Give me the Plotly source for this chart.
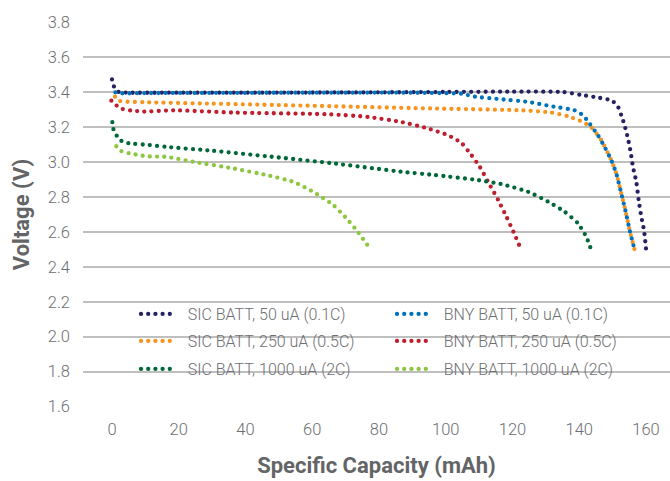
import plotly.graph_objects as go

# Discharge curves: specific capacity (mAh) vs cell voltage (V)
sic_50_x = [0, 0.6, 2, 5, 20, 40, 60, 80, 100, 120, 135, 140.6, 145.6, 149.6,
            151.4, 152.6, 153.6, 154.6, 155.4, 156.1, 157.1, 157.8, 158.6, 159.4, 160.1]
sic_50_y = [3.474, 3.433, 3.402, 3.398, 3.398, 3.398, 3.399, 3.400, 3.402, 3.404, 3.402,
            3.385, 3.370, 3.354, 3.326, 3.269, 3.211, 3.135, 3.059, 2.973, 2.887, 2.783,
            2.687, 2.611, 2.487]

bny_50_x = [1, 3, 10, 30, 60, 90, 104.7, 108.7, 116.7, 124.7, 131.7, 138.6, 141.1,
            143.1, 145.6, 147.6, 149.6, 151.1, 152.6, 153.8, 155.1, 156.6]
bny_50_y = [3.400, 3.395, 3.396, 3.397, 3.398, 3.398, 3.392, 3.375, 3.360, 3.345, 3.320,
            3.297, 3.269, 3.221, 3.154, 3.087, 3.011, 2.935, 2.821, 2.726, 2.611, 2.497]

sic_250_x = [0.9, 2.1, 3.8, 10, 30, 50, 66.8, 96.7, 122.7, 131.7, 136.6, 141.1, 143.6,
             146.6, 149.6, 151.1, 152.6, 153.8, 155.1, 156.6]
sic_250_y = [3.375, 3.352, 3.347, 3.343, 3.335, 3.327, 3.320, 3.307, 3.297, 3.284, 3.263,
             3.230, 3.200, 3.126, 3.011, 2.935, 2.821, 2.726, 2.611, 2.497]

bny_250_x = [-0.2, 1.4, 3.1, 5.6, 9.6, 18.4, 36.3, 65.3, 76.7, 86.7, 94.7, 100.7, 104.7,
             107.7, 110.2, 112.7, 115.7, 118.2, 120.7, 122.4]
bny_250_y = [3.352, 3.324, 3.305, 3.296, 3.290, 3.297, 3.284, 3.274, 3.259, 3.230, 3.193,
             3.154, 3.110, 3.040, 2.973, 2.887, 2.783, 2.687, 2.583, 2.507]

sic_1000_x = [0.1, 0.4, 1.4, 2.6, 4.4, 6.6, 10.6, 16.4, 30.3, 46.3, 66.3, 86.7, 96.7,
              109.7, 116.7, 124.7, 130.7, 135.6, 139.6, 142.1, 143.6]
sic_1000_y = [3.229, 3.190, 3.152, 3.124, 3.110, 3.105, 3.099, 3.087, 3.065, 3.034, 2.993,
              2.945, 2.926, 2.897, 2.874, 2.830, 2.773, 2.716, 2.650, 2.573, 2.497]

bny_1000_x = [1.3, 2.8, 5.1, 7.6, 10.1, 16.4, 24.3, 36.3, 46.3, 54.3, 60.3, 66.3, 69.8,
              73.7, 77.2]
bny_1000_y = [3.091, 3.063, 3.051, 3.042, 3.034, 3.030, 3.002, 2.964, 2.926, 2.887, 2.830,
              2.754, 2.687, 2.600, 2.507]

# (name, x, y, colour, legend row); listed in drawing order
series = [
    ("SIC BATT, 250 uA (0.5C)", sic_250_x, sic_250_y, "#f7941d", "legend2"),
    ("SIC BATT, 50 uA (0.1C)", sic_50_x, sic_50_y, "#262262", "legend"),
    ("BNY BATT, 50 uA (0.1C)", bny_50_x, bny_50_y, "#0072bc", "legend"),
    ("BNY BATT, 250 uA (0.5C)", bny_250_x, bny_250_y, "#be1e2d", "legend2"),
    ("SIC BATT, 1000 uA (2C)", sic_1000_x, sic_1000_y, "#006838", "legend3"),
    ("BNY BATT, 1000 uA (2C)", bny_1000_x, bny_1000_y, "#8dc63f", "legend3"),
]
legend_order = {
    "SIC BATT, 50 uA (0.1C)": 1, "BNY BATT, 50 uA (0.1C)": 2,
    "SIC BATT, 250 uA (0.5C)": 1, "BNY BATT, 250 uA (0.5C)": 2,
    "SIC BATT, 1000 uA (2C)": 1, "BNY BATT, 1000 uA (2C)": 2,
}

y_ticks = [1.6, 1.8, 2.0, 2.2, 2.4, 2.6, 2.8, 3.0, 3.2, 3.4, 3.6, 3.8]
x_ticks = [0, 20, 40, 60, 80, 100, 120, 140, 160]

FONT = "Roboto, Liberation Sans, sans-serif"
GRAY = "#6d6e71"
TITLE_GRAY = "#636466"

fig = go.Figure()
for name, xs, ys, color, leg in series:
    fig.add_trace(go.Scatter(
        x=xs, y=ys, name="\u00a0\u00a0\u00a0" + name, mode="lines", legend=leg,
        legendrank=legend_order[name],
        line=dict(color=color, width=4.3, dash="0px,7.2px", shape="spline", smoothing=0.5),
    ))

legend_style = dict(
    orientation="h", x=0.0903, xanchor="left", yanchor="middle",
    bgcolor="rgba(0,0,0,0)", entrywidth=211, entrywidthmode="pixels",
    font=dict(family=FONT, size=16, color=GRAY, weight=300), traceorder="normal",
)

fig.update_layout(
    width=670, height=481,
    margin=dict(l=83, r=0, t=22, b=74),
    paper_bgcolor="white", plot_bgcolor="white",
    font=dict(family=FONT, color=GRAY, size=16),
    xaxis=dict(
        range=[-8.69, 167.2], tickmode="array", tickvals=x_ticks,
        ticktext=[str(v) for v in x_ticks], showgrid=False, zeroline=False,
        showline=False, ticks="", ticklabelstandoff=10,
        tickfont=dict(family=FONT, size=16.5, color=GRAY, weight=300),
        title=dict(text="<b>Specific Capacity (mAh)</b>", standoff=20,
                   font=dict(family=FONT, size=22, color=TITLE_GRAY)),
    ),
    yaxis=dict(
        range=[1.597, 3.803], tickmode="array", tickvals=y_ticks,
        ticktext=[f"{v:.1f}" for v in y_ticks], showgrid=True, gridcolor="#bfbfbf",
        gridwidth=1.5, zeroline=False, showline=False, ticks="", ticklabelstandoff=12,
        tickfont=dict(family=FONT, size=16.5, color=GRAY, weight=300),
        title=dict(text="<b>Voltage (V)</b>", standoff=12,
                   font=dict(family=FONT, size=22, color=TITLE_GRAY)),
    ),
    showlegend=True,
    legend=dict(legend_style, y=0.2416),
    legend2=dict(legend_style, y=0.1714),
    legend3=dict(legend_style, y=0.0987),
    # white panel behind the legend rows, hiding the gridlines there
    shapes=[dict(type="rect", xref="paper", yref="paper", layer="between",
                 x0=0.0545, x1=0.9676, y0=0.04, y1=0.285,
                 fillcolor="white", line=dict(width=0))],
)

fig.write_html(
    "out.html",
    post_script="var s=document.createElement('style');"
                "s.textContent='.js-line{stroke-linecap:round;}';"
                "document.head.appendChild(s);",
)
